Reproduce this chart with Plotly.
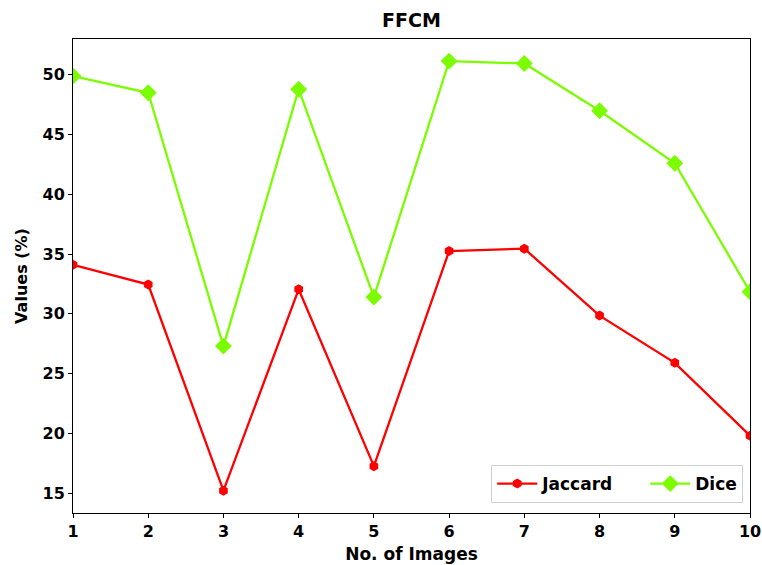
import plotly.graph_objects as go

images = [1, 2, 3, 4, 5, 6, 7, 8, 9, 10]
jaccard = [34.1, 32.45, 15.2, 32.05, 17.25, 35.25, 35.45, 29.85, 25.9, 19.8]
dice = [49.9, 48.5, 27.3, 48.8, 31.4, 51.15, 50.95, 47.0, 42.6, 31.85]
x_ticks = [1, 2, 3, 4, 5, 6, 7, 8, 9, 10]
y_ticks = [15, 20, 25, 30, 35, 40, 45, 50]

font_family = "DejaVu Sans"

fig = go.Figure()
fig.add_trace(go.Scatter(
    x=images, y=jaccard, name="<b>Jaccard</b>" + "\u00a0" * 5, mode="lines+markers",
    line=dict(color="#ff0000", width=2.3),
    marker=dict(symbol="hexagon", size=10, color="#ff0000"),
))
fig.add_trace(go.Scatter(
    x=images, y=dice, name="<b>Dice</b>", mode="lines+markers",
    line=dict(color="#7cfc00", width=2.3),
    marker=dict(symbol="diamond", size=13, color="#7cfc00"),
))

W, H = 762, 565
fig.update_layout(
    width=W, height=H,
    margin=dict(l=73, r=12, t=39, b=52),
    paper_bgcolor="white", plot_bgcolor="white",
    font=dict(family=font_family, size=12, color="black"),
    title=dict(text="<b>FFCM</b>", x=0.5, xref="paper", xanchor="center",
               y=1 - 20 / H, yref="container", yanchor="middle",
               font=dict(size=19, family=font_family, color="black")),
    legend=dict(orientation="h", x=0.99, xanchor="right", y=0.021, yanchor="bottom",
                bgcolor="rgba(255,255,255,0.8)", bordercolor="#d0d0d0", borderwidth=1,
                font=dict(size=17, family=font_family, color="black"),
                itemwidth=40),
    showlegend=True,
)
fig.update_xaxes(
    range=[1, 10], tickvals=x_ticks, ticktext=[f"<b>{v}</b>" for v in x_ticks],
    showgrid=False, zeroline=False, showline=True, linecolor="black", linewidth=1,
    mirror=True, ticks="outside", ticklen=4, tickcolor="black", automargin=False,
    tickfont=dict(size=16, family=font_family),
    title=dict(text="<b>No. of Images</b>", font=dict(size=17, family=font_family), standoff=7),
)
fig.update_yaxes(
    range=[13.33, 53.0], tickvals=y_ticks, ticktext=[f"<b>{v}</b>" for v in y_ticks],
    showgrid=False, zeroline=False, showline=True, linecolor="black", linewidth=1,
    mirror=True, ticks="outside", ticklen=4, tickcolor="black", automargin=False,
    tickfont=dict(size=16, family=font_family),
    title=dict(text="<b>Values (%)</b>", font=dict(size=16, family=font_family), standoff=10),
)

fig.write_html(
    "out.html",
    config={"displayModeBar": False},
    post_script="document.body.style.margin='0';document.body.style.overflow='hidden';",
)
